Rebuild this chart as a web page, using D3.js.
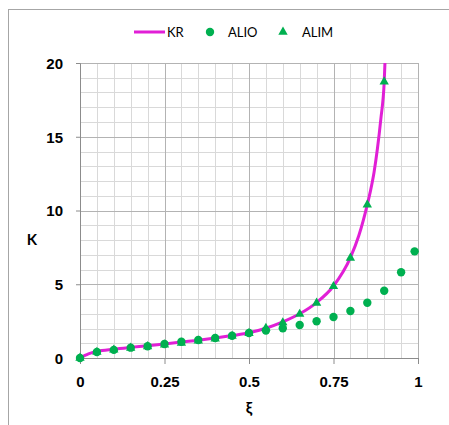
<!DOCTYPE html>
<html>
<head>
<meta charset="utf-8">
<script src="https://cdn.jsdelivr.net/npm/d3@7"></script>
<style>
  body { margin: 0; background: #fff; }
  svg { display: block; font-family: Lato, "Open Sans", sans-serif; }
</style>
</head>
<body>
<script>
const width = 449;
const height = 425;
const margin = { top: 63, right: 31, bottom: 67, left: 80 };

const chartWidth = width - margin.left - margin.right;
const chartHeight = height - margin.top - margin.bottom;

// KR curve
const krXi = [0, 0.025, 0.05, 0.1, 0.15, 0.2, 0.25, 0.3, 0.35, 0.4, 0.45, 0.5, 0.55, 0.6, 0.65, 0.7, 0.75, 0.8, 0.825, 0.85, 0.86, 0.87, 0.88, 0.89, 0.9, 0.905];
const krK = [0, 0.28, 0.45, 0.6, 0.72, 0.83, 0.95, 1.08, 1.2, 1.35, 1.52, 1.71, 2.02, 2.45, 3.0, 3.76, 4.88, 6.8, 8.3, 10.4, 11.4, 12.6, 14.2, 16.2, 18.7, 21.6];

// ALIO points
const alioXi = [0, 0.05, 0.1, 0.15, 0.2, 0.25, 0.3, 0.35, 0.4, 0.45, 0.5, 0.55, 0.6, 0.65, 0.7, 0.75, 0.8, 0.85, 0.9, 0.95, 0.99];
const alioK = [0, 0.41, 0.55, 0.7, 0.8, 0.95, 1.1, 1.22, 1.36, 1.51, 1.69, 1.86, 2.02, 2.24, 2.49, 2.78, 3.19, 3.75, 4.56, 5.81, 7.23];

// ALIM points
const alimXi = [0, 0.05, 0.1, 0.15, 0.2, 0.25, 0.3, 0.35, 0.4, 0.45, 0.5, 0.55, 0.6, 0.65, 0.7, 0.75, 0.8, 0.85, 0.9];
const alimK = [0, 0.4, 0.55, 0.68, 0.78, 0.9, 1.02, 1.16, 1.3, 1.48, 1.68, 2.03, 2.4, 2.98, 3.73, 4.86, 6.78, 10.39, 18.73];

const xTicks = [0, 0.25, 0.5, 0.75, 1];
const xTickLabels = ["0", "0.25", "0.5", "0.75", "1"];
const yTicks = [0, 5, 10, 15, 20];

const magenta = "#e11fd6";
const green = "#00b050";

const svg = d3.select("body")
  .append("svg")
  .attr("width", width)
  .attr("height", height);

// outer chart frame (cut by the picture on right and bottom)
svg.append("rect")
  .attr("x", 8.5).attr("y", 9.5)
  .attr("width", 460).attr("height", 440)
  .attr("fill", "none")
  .attr("stroke", "#a6a6a6");

const g = svg.append("g")
  .attr("transform", `translate(${margin.left}, ${margin.top})`);

const x = d3.scaleLinear().domain([0, 1]).range([0, chartWidth]);
const y = d3.scaleLinear().domain([0, 20]).range([chartHeight, 0]);

// minor grid
g.append("g")
  .selectAll("line")
  .data(d3.range(0, 1.0001, 0.05))
  .join("line")
    .attr("x1", d => Math.round(x(d)) + 0.5).attr("x2", d => Math.round(x(d)) + 0.5)
    .attr("y1", 0).attr("y2", chartHeight)
    .attr("stroke", "#d9d9d9");
g.append("g")
  .selectAll("line")
  .data(d3.range(0, 20.001, 1))
  .join("line")
    .attr("y1", d => Math.round(y(d)) + 0.5).attr("y2", d => Math.round(y(d)) + 0.5)
    .attr("x1", 0).attr("x2", chartWidth)
    .attr("stroke", "#d9d9d9");

// major grid
g.append("g")
  .selectAll("line")
  .data(xTicks)
  .join("line")
    .attr("x1", d => Math.round(x(d)) + 0.5).attr("x2", d => Math.round(x(d)) + 0.5)
    .attr("y1", 0).attr("y2", chartHeight)
    .attr("stroke", "#b3b3b3");
g.append("g")
  .selectAll("line")
  .data(yTicks)
  .join("line")
    .attr("y1", d => Math.round(y(d)) + 0.5).attr("y2", d => Math.round(y(d)) + 0.5)
    .attr("x1", 0).attr("x2", chartWidth)
    .attr("stroke", "#b3b3b3");

// axes
const xAxis = d3.axisBottom(x)
  .tickValues(xTicks)
  .tickFormat((d, i) => xTickLabels[i])
  .tickSize(6)
  .tickPadding(12);
const xg = g.append("g")
  .attr("transform", `translate(0, ${chartHeight})`)
  .call(xAxis);

const yAxis = d3.axisLeft(y)
  .tickValues(yTicks)
  .tickSize(4)
  .tickPadding(13);
const yg = g.append("g").call(yAxis);

[xg, yg].forEach(a => {
  a.select(".domain").attr("stroke", "#8c8c8c");
  a.selectAll(".tick line").attr("stroke", "#8c8c8c");
  a.selectAll(".tick text")
    .attr("fill", "#000")
    .style("font-size", "15px")
    .style("font-weight", "bold");
});
yg.selectAll(".tick text").attr("dy", "0.35em");

// axis titles
g.append("text")
  .attr("x", chartWidth / 2)
  .attr("y", chartHeight + 55)
  .attr("text-anchor", "middle")
  .style("font-size", "16px")
  .style("font-weight", "bold")
  .text("ξ");

g.append("text")
  .attr("x", -48)
  .attr("y", y(8) + 5)
  .attr("text-anchor", "middle")
  .style("font-size", "15px")
  .style("font-weight", "bold")
  .text("K");

// clip for the curve
svg.append("defs").append("clipPath")
  .attr("id", "plot-clip")
  .append("rect")
  .attr("x", -2).attr("y", 0)
  .attr("width", chartWidth + 4).attr("height", chartHeight + 2);

const line = d3.line()
  .x((d, i) => x(krXi[i]))
  .y(d => y(d))
  .curve(d3.curveMonotoneX);

g.append("path")
  .datum(krK)
  .attr("clip-path", "url(#plot-clip)")
  .attr("fill", "none")
  .attr("stroke", magenta)
  .attr("stroke-width", 3)
  .attr("d", line);

// ALIO circles
g.selectAll("circle.alio")
  .data(alioK)
  .join("circle")
    .attr("class", "alio")
    .attr("cx", (d, i) => x(alioXi[i]))
    .attr("cy", d => y(d))
    .attr("r", 4.2)
    .attr("fill", green);

// ALIM triangles
const tri = d3.symbol().type(d3.symbolTriangle).size(38);
g.selectAll("path.alim")
  .data(alimK)
  .join("path")
    .attr("class", "alim")
    .attr("transform", (d, i) => `translate(${x(alimXi[i])}, ${y(d)})`)
    .attr("d", tri)
    .attr("fill", green);

// legend
const legend = svg.append("g").style("font-size", "13px");
legend.append("line")
  .attr("x1", 134).attr("x2", 165)
  .attr("y1", 32).attr("y2", 32)
  .attr("stroke", magenta)
  .attr("stroke-width", 3);
legend.append("text").attr("x", 167).attr("y", 37).text("KR");
legend.append("circle").attr("cx", 210).attr("cy", 32).attr("r", 4.2).attr("fill", green);
legend.append("text").attr("x", 228).attr("y", 37).text("ALIO");
legend.append("path")
  .attr("transform", "translate(283, 32)")
  .attr("d", tri)
  .attr("fill", green);
legend.append("text").attr("x", 302).attr("y", 37).text("ALIM");
</script>
</body>
</html>
